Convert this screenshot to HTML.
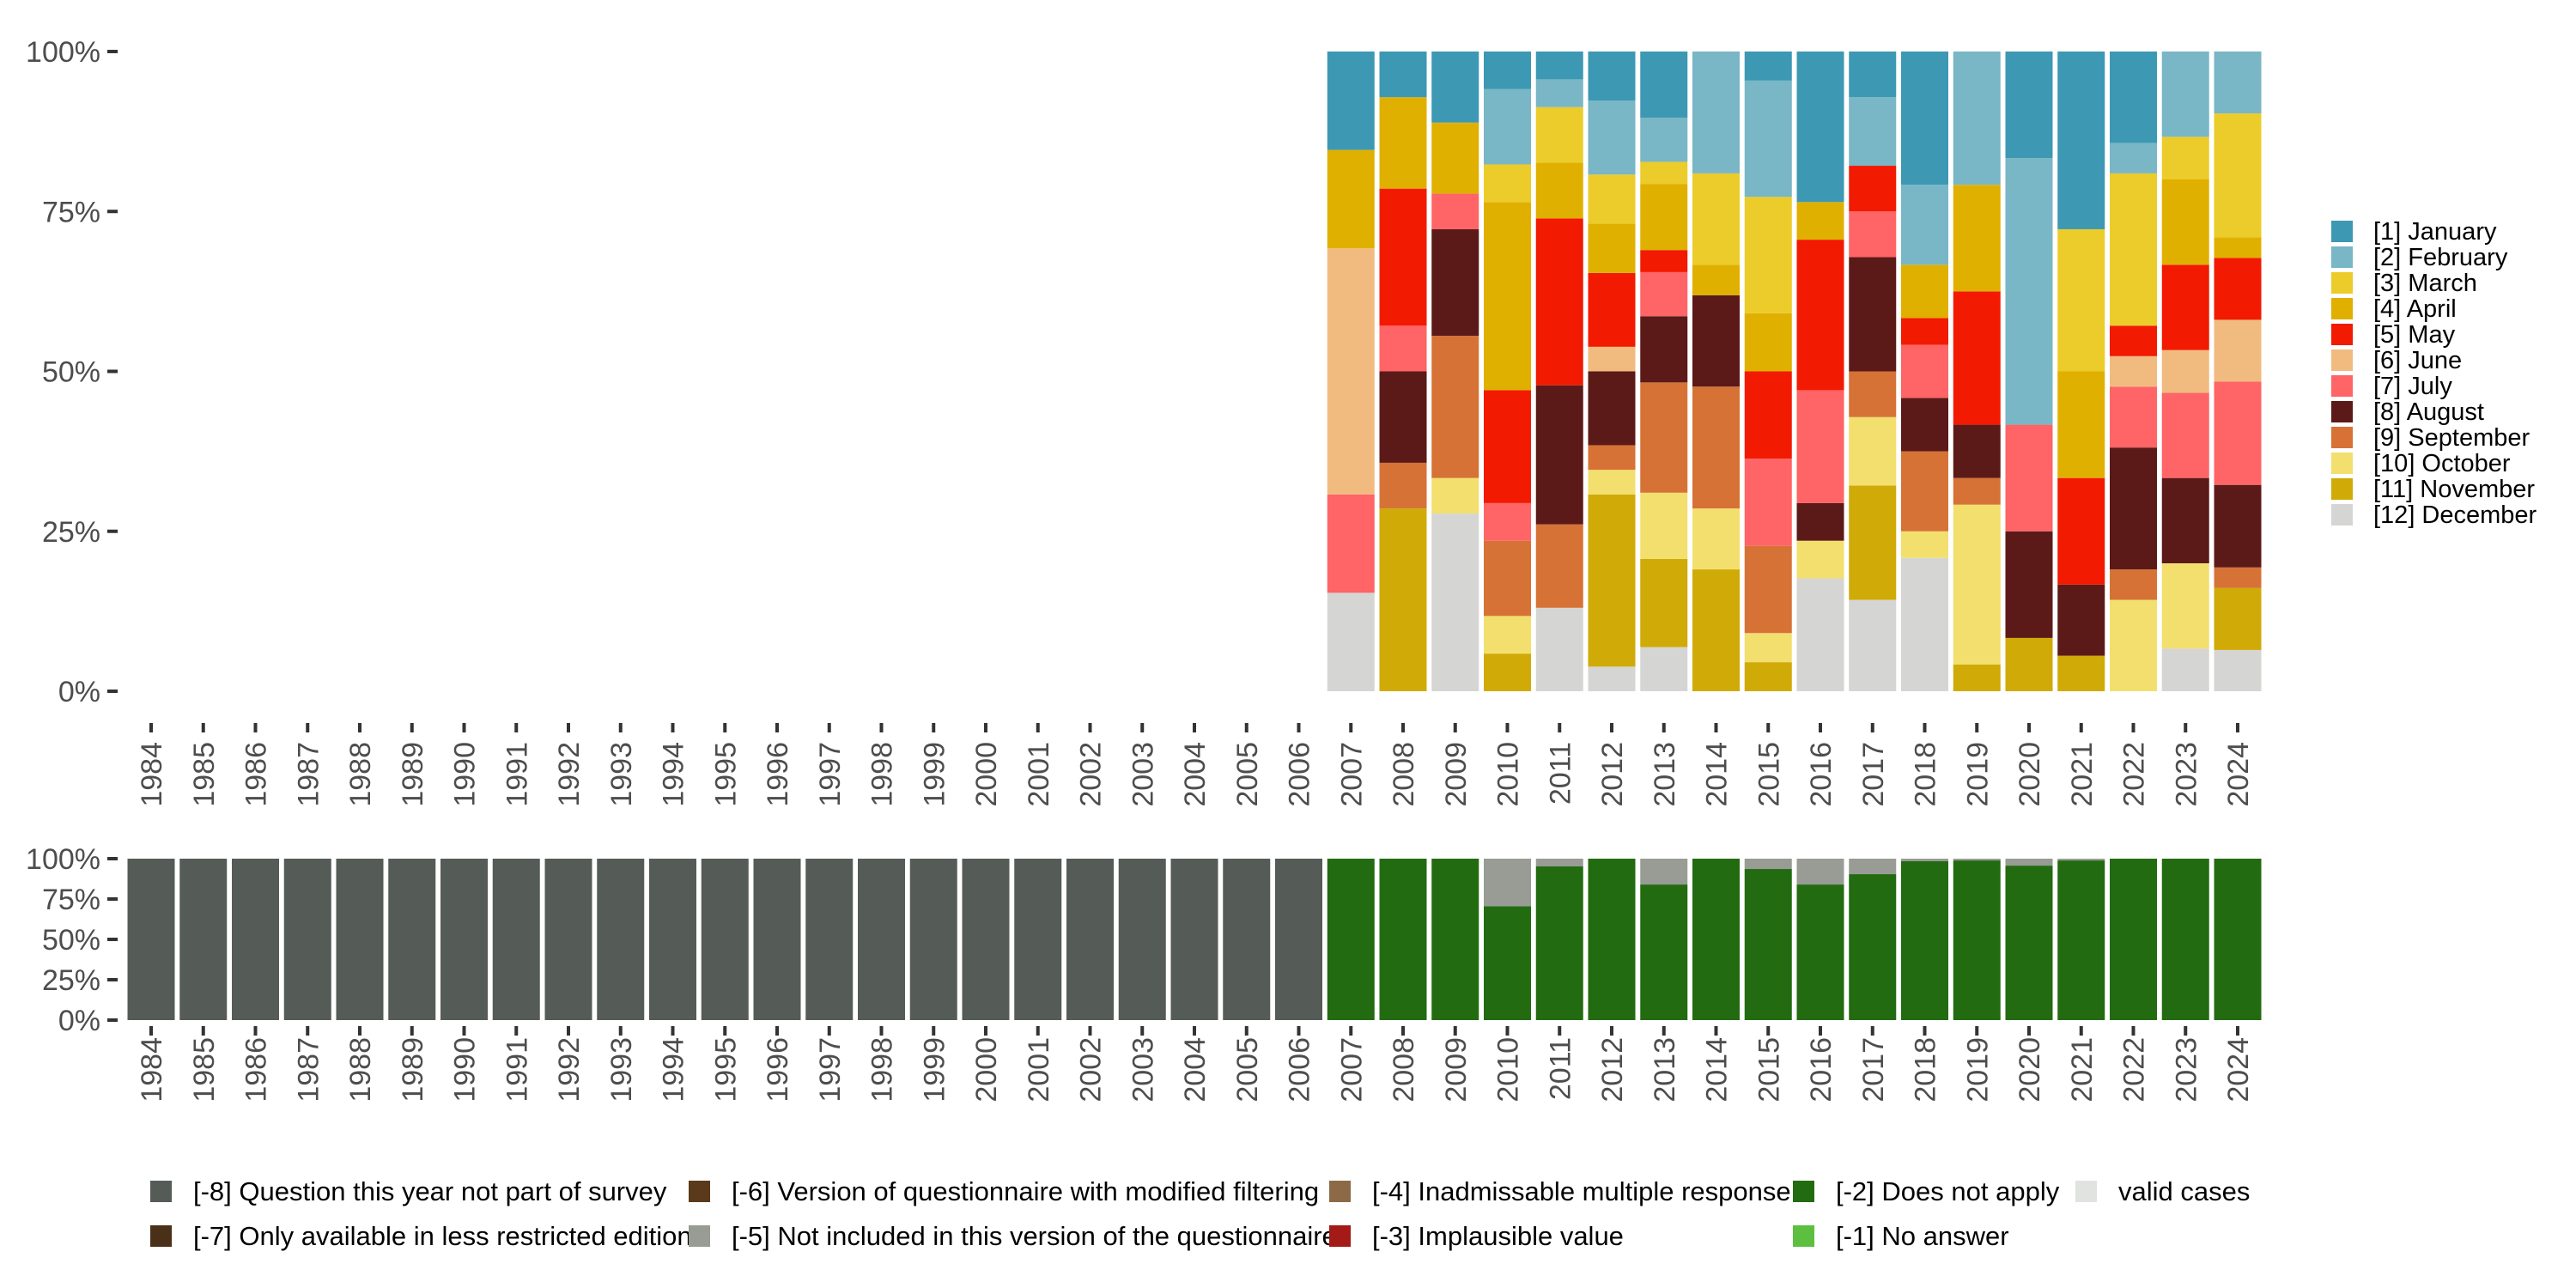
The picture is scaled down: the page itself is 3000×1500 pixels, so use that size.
<!DOCTYPE html>
<html><head><meta charset="utf-8"><style>
html,body{margin:0;padding:0;background:#fff;}
svg{display:block;font-family:"Liberation Sans",sans-serif;}
</style></head><body>
<svg id="chart" width="3000" height="1500" viewBox="0 0 3000 1500" xmlns="http://www.w3.org/2000/svg">
<rect width="3000" height="1500" fill="#fff"/>
<g id="topPanel"></g>
<g id="bottomPanel"></g>
<g id="legendR"></g>
<g id="legendB"></g>
</svg>
<script>
const years=[];for(let y=1984;y<=2024;y++)years.push(y);
const validYears=[2007,2008,2009,2010,2011,2012,2013,2014,2015,2016,2017,2018,2019,2020,2021,2022,2023,2024];
const monthNames=["[1] January","[2] February","[3] March","[4] April","[5] May","[6] June","[7] July","[8] August","[9] September","[10] October","[11] November","[12] December"];
const monthColors=["#3d98b3","#79b6c6","#ebcc2a","#e0b000","#f21a00","#f1bb7f","#ff6466","#5b1a18","#d67236","#f2df6e","#d0aa06","#d5d5d3"];
const jan=[2,1,2,1,1,2,3,0,1,4,2,5,0,2,5,3,0,0];
const feb=[0,0,0,2,1,3,2,4,4,0,3,3,5,5,0,1,2,3];
const mar=[0,0,0,1,2,2,1,3,4,0,0,0,0,0,4,5,1,6];
const apr=[2,2,2,5,2,2,3,1,2,1,0,2,4,0,3,0,2,1];
const may=[0,3,0,3,6,3,1,0,3,4,2,1,5,0,3,1,2,3];
const jun=[5,0,0,0,0,1,0,0,0,0,0,0,0,0,0,1,1,3];
const jul=[2,1,1,1,0,0,2,0,3,3,2,2,0,2,0,2,2,5];
const aug=[0,2,3,0,5,3,3,3,0,1,5,2,2,2,2,4,2,4];
const sep=[0,1,4,2,3,1,5,4,3,0,2,3,1,0,0,1,0,1];
const oct=[0,0,1,1,0,1,3,2,1,1,3,1,6,0,0,3,2,0];
const nov=[0,4,0,1,0,7,4,4,1,0,5,0,1,1,1,0,0,3];
const dec=[2,0,5,0,3,1,2,0,0,3,4,5,0,0,0,0,1,2];
const months=[jan,feb,mar,apr,may,jun,jul,aug,sep,oct,nov,dec];
const notIncluded=[0,0,0,29.4,4.8,0,16,0,6.4,16,9.6,1.6,1.1,4.3,1.1,0,0,0];
const yTicks=[0,0.25,0.5,0.75,1];
const yTickLabels=["0%","25%","50%","75%","100%"];

const NS="http://www.w3.org/2000/svg";
function mk(tag,attrs,parent){const e=document.createElementNS(NS,tag);for(const k in attrs)e.setAttribute(k,attrs[k]);parent.appendChild(e);return e;}
const xPos=y=>176+(y-1984)*60.75;
const BW=55;
const yTop=p=>805-p*745;
const yBot=p=>1188-p*188;
const topG=document.getElementById('topPanel'),botG=document.getElementById('bottomPanel');

function yAxis(g,ys,name){
  yTicks.forEach((t,i)=>{
    const tk=mk('line',{x1:125,x2:137,y1:ys(t),y2:ys(t),stroke:'#333',"stroke-width":4},g);
    
    
    const tx=mk('text',{x:117,y:ys(t)+12,"text-anchor":"end","font-size":34,fill:'#4d4d4d'},g);
    tx.textContent=yTickLabels[i];
    
    
  });
}
function xAxis(g,tickY,labelY,name){
  years.forEach(y=>{
    const x=xPos(y);
    const tk=mk('line',{x1:x,x2:x,y1:tickY,y2:tickY+11,stroke:'#333',"stroke-width":4},g);
    
    
    const tx=mk('text',{x:x+12,y:labelY,"text-anchor":"end","font-size":34,fill:'#4d4d4d',transform:`rotate(-90 ${x+12} ${labelY})`},g);
    tx.textContent=y;
    
    
  });
}
yAxis(topG,yTop,'top-y-axis');
xAxis(topG,842,864,'top-x-axis');
validYears.forEach((yr,i)=>{
  let total=0;months.forEach(m=>total+=m[i]);
  let cum=0;
  for(let k=11;k>=0;k--){
    const v=months[k][i];if(!v)continue;
    const p0=cum/total,p1=(cum+v)/total;cum+=v;
    const r=mk('rect',{x:xPos(yr)-BW/2,y:yTop(p1),width:BW,height:yTop(p0)-yTop(p1),fill:monthColors[k]},topG);
    
    
  }
});
yAxis(botG,yBot,'bottom-y-axis');
xAxis(botG,1195,1208,'bottom-x-axis');
years.forEach(yr=>{
  const x=xPos(yr)-BW/2;
  if(yr<2007){
    const r=mk('rect',{x:x,y:yBot(1),width:BW,height:yBot(0)-yBot(1),fill:'#555b56'},botG);
    
    
  }else{
    const i=validYears.indexOf(yr);
    const g=1-notIncluded[i]/100;
    const r=mk('rect',{x:x,y:yBot(g),width:BW,height:yBot(0)-yBot(g),fill:'#226b10'},botG);
    
    
    if(notIncluded[i]>0){
      const r2=mk('rect',{x:x,y:yBot(1),width:BW,height:yBot(g)-yBot(1),fill:'#989c94'},botG);
      
      
    }
  }
});
const lr=document.getElementById('legendR');
monthNames.forEach((n,k)=>{
  const y=257+k*30;
  const r=mk('rect',{x:2715,y:y,width:25,height:25,fill:monthColors[k]},lr);
  
  
  const t=mk('text',{x:2764,y:y+22,"font-size":29,fill:'#000'},lr);
  t.textContent=n;
  
  
});
const lb=document.getElementById('legendB');
const bItems=[
 [175,1375,"#555b56","[-8] Question this year not part of survey"],
 [175,1427,"#4a3018","[-7] Only available in less restricted edition"],
 [802,1375,"#5a3a1a","[-6] Version of questionnaire with modified filtering"],
 [802,1427,"#989c94","[-5] Not included in this version of the questionnaire"],
 [1548,1375,"#8c6a48","[-4] Inadmissable multiple response"],
 [1548,1427,"#a31a16","[-3] Implausible value"],
 [2088,1375,"#226b10","[-2] Does not apply"],
 [2088,1427,"#5cbf3f","[-1] No answer"],
 [2417,1375,"#e0e3df","valid cases"]];
bItems.forEach(([x,y,c,n])=>{
  const r=mk('rect',{x:x,y:y,width:25,height:25,fill:c},lb);
  
  
  const t=mk('text',{x:x+50,y:y+23,"font-size":31,fill:'#000'},lb);
  t.textContent=n;
  
  
});
</script>
</body></html>
